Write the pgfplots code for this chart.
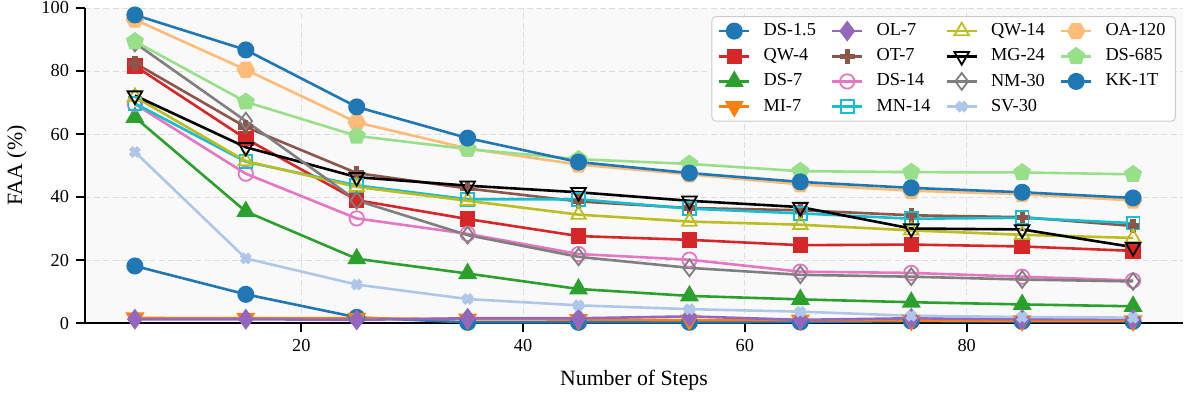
\documentclass[border=0pt]{standalone}
\usepackage{fontspec}
\setmainfont{Liberation Serif}
\usepackage{pgfplots}
\pgfplotsset{compat=1.18}
\usetikzlibrary{plotmarks}

% tab10 / tab20 palette
\definecolor{tabblue}{HTML}{1F77B4}
\definecolor{taborange}{HTML}{FF7F0E}
\definecolor{tabgreen}{HTML}{2CA02C}
\definecolor{tabred}{HTML}{D62728}
\definecolor{tabpurple}{HTML}{9467BD}
\definecolor{tabbrown}{HTML}{8C564B}
\definecolor{tabpink}{HTML}{E377C2}
\definecolor{tabgray}{HTML}{7F7F7F}
\definecolor{tabolive}{HTML}{BCBD22}
\definecolor{tabcyan}{HTML}{17BECF}
\definecolor{lightblue}{HTML}{AEC7E8}
\definecolor{lightorange}{HTML}{FFBB78}
\definecolor{lightgreen}{HTML}{98DF8A}
\definecolor{panelbg}{HTML}{F9F9F9}

% filled hexagon with points on the left and right
\pgfdeclareplotmark{hexagon*}{%
  \pgfpathmoveto{\pgfpointpolar{0}{\pgfplotmarksize}}%
  \pgfpathlineto{\pgfpointpolar{60}{\pgfplotmarksize}}%
  \pgfpathlineto{\pgfpointpolar{120}{\pgfplotmarksize}}%
  \pgfpathlineto{\pgfpointpolar{180}{\pgfplotmarksize}}%
  \pgfpathlineto{\pgfpointpolar{240}{\pgfplotmarksize}}%
  \pgfpathlineto{\pgfpointpolar{300}{\pgfplotmarksize}}%
  \pgfpathclose
  \pgfusepathqfillstroke}

\pgfplotsset{
  sDSa/.style={color=tabblue, mark=*, mark size=3.6pt},
  sQWa/.style={color=tabred, mark=square*, mark size=3.2pt},
  sDSb/.style={color=tabgreen, mark=triangle*, mark size=4.2pt},
  sMI/.style={color=taborange, mark=triangle*, mark size=4.2pt, mark options={rotate=180}},
  sOL/.style={color=tabpurple, mark=diamond*, mark size=4.2pt},
  sOT/.style={color=tabbrown, mark=+, mark size=3.7pt, mark options={line width=2.6pt}},
  sDSc/.style={color=tabpink, mark=o, mark size=3.6pt, mark options={line width=0.9pt}},
  sMN/.style={color=tabcyan, mark=square, mark size=3.2pt, mark options={line width=0.9pt}},
  sQWb/.style={color=tabolive, mark=triangle, mark size=4.2pt, mark options={line width=0.9pt}},
  sMG/.style={color=black, mark=triangle, mark size=4.2pt, mark options={rotate=180, line width=0.9pt}},
  sNM/.style={color=tabgray, mark=diamond, mark size=4.2pt, mark options={line width=0.9pt}},
  sSV/.style={color=lightblue, mark=x, mark size=2.9pt, mark options={line width=2.6pt}},
  sOA/.style={color=lightorange, mark=hexagon*, mark size=3.9pt},
  sDSd/.style={color=lightgreen, mark=pentagon*, mark size=3.9pt},
  sKK/.style={color=tabblue, mark=*, mark size=3.6pt},
}

\begin{document}
\begin{tikzpicture}
\path[use as bounding box] (-42.5pt,-37.5pt) rectangle (552.5pt,161.5pt);
\begin{axis}[
  at={(0,0)}, anchor=south west,
  scale only axis, width=549pt, height=157.5pt,
  xmin=0.5, xmax=99.5, ymin=0, ymax=100,
  xtick={20,40,60,80}, ytick={0,20,40,60,80,100},
  axis x line*=bottom, axis y line*=left,
  axis line style={line width=0.8pt, -},
  tick align=outside, major tick length=4.5pt,
  tick style={line width=0.8pt, black},
  grid=major,
  grid style={line width=0.4pt, color=black!13, dash pattern=on 3pt off 1.6pt},
  axis background/.style={fill=panelbg},
  /pgf/number format/assume math mode=true,
  tick label style={font=\fontsize{9.15}{10}\selectfont},
  label style={font=\fontsize{10.9}{12}\selectfont},
  xlabel={Number of Steps},
  ylabel={FAA (\%)},
  xlabel style={at={(axis description cs:0.5,0)}, anchor=center, yshift=-28.5pt},
  ylabel style={at={(axis description cs:-0.062,0.5)}, anchor=center},
  every axis plot/.append style={line width=1.3pt},
  legend columns=4,
  legend cell align=left,
  legend image code/.code={%
    \draw[mark repeat=2, mark phase=2] plot coordinates {(0pt,0pt) (7.5pt,0pt) (15pt,0pt)};},
  legend style={
    at={(axis description cs:1,1)}, anchor=north east, xshift=-3.5pt, yshift=-4pt,
    draw=black!20, line width=0.5pt, rounded corners=2pt,
    fill=white,
    font=\fontsize{9.15}{10}\selectfont,
    inner xsep=3pt, inner ysep=1.5pt, row sep=1pt,
    /tikz/every odd column/.append style={column sep=4.5pt},
    /tikz/every even column/.append style={column sep=5.5pt},
  },
]

\addplot[sDSa, forget plot] coordinates {(5,18.1) (15,9.1) (25,1.8) (35,0.2) (45,0.2) (55,0.2) (65,0.3) (75,0.6) (85,0.5) (95,0.5)};
\addplot[sQWa, forget plot] coordinates {(5,81.6) (15,58.5) (25,39.0) (35,33.0) (45,27.6) (55,26.4) (65,24.7) (75,24.9) (85,24.3) (95,22.9)};
\addplot[sDSb, forget plot] coordinates {(5,65.3) (15,35.4) (25,20.4) (35,15.7) (45,10.8) (55,8.6) (65,7.5) (75,6.6) (85,5.9) (95,5.3)};
\addplot[sMI, forget plot] coordinates {(5,1.6) (15,1.5) (25,1.5) (35,1.2) (45,1.1) (55,0.9) (65,0.9) (75,0.8) (85,0.7) (95,0.7)};
\addplot[sOL, forget plot] coordinates {(5,1.2) (15,1.2) (25,1.0) (35,1.5) (45,1.5) (55,2.1) (65,1.0) (75,1.5) (85,1.2) (95,1.3)};
\addplot[sOT, forget plot] coordinates {(5,82.5) (15,62.2) (25,47.6) (35,42.7) (45,38.6) (55,36.5) (65,35.8) (75,34.2) (85,33.6) (95,30.8)};
\addplot[sDSc, forget plot] coordinates {(5,69.5) (15,47.4) (25,33.2) (35,28.3) (45,21.9) (55,20.1) (65,16.3) (75,15.9) (85,14.7) (95,13.5)};
\addplot[sMN, forget plot] coordinates {(5,69.7) (15,51.2) (25,43.7) (35,39.3) (45,39.3) (55,36.3) (65,34.8) (75,33.1) (85,33.4) (95,31.7)};
\addplot[sQWb, forget plot] coordinates {(5,71.8) (15,51.4) (25,43.2) (35,38.8) (45,34.4) (55,32.2) (65,31.2) (75,29.4) (85,28.0) (95,27.0)};
\addplot[sMG, forget plot] coordinates {(5,72.2) (15,55.8) (25,46.3) (35,43.6) (45,41.5) (55,38.8) (65,36.8) (75,30.0) (85,29.7) (95,24.1)};
\addplot[sNM, forget plot] coordinates {(5,88.9) (15,64.1) (25,38.9) (35,27.9) (45,21.0) (55,17.5) (65,15.3) (75,14.7) (85,13.8) (95,13.2)};
\addplot[sSV, forget plot] coordinates {(5,54.3) (15,20.5) (25,12.2) (35,7.6) (45,5.6) (55,4.4) (65,3.6) (75,2.3) (85,1.9) (95,1.7)};
\addplot[sOA, forget plot] coordinates {(5,96.3) (15,80.4) (25,63.7) (35,55.4) (45,50.3) (55,47.2) (65,44.0) (75,42.0) (85,40.9) (95,38.9)};
\addplot[sDSd, forget plot] coordinates {(5,89.4) (15,70.2) (25,59.4) (35,55.2) (45,52.0) (55,50.5) (65,48.2) (75,47.9) (85,47.8) (95,47.2)};
\addplot[sKK, forget plot] coordinates {(5,97.8) (15,86.7) (25,68.6) (35,58.7) (45,51.1) (55,47.6) (65,44.8) (75,42.9) (85,41.5) (95,39.7)};

% legend, filled row by row so that its columns read top to bottom
\addlegendimage{sDSa}\addlegendentry{DS-1.5}
\addlegendimage{sOL}\addlegendentry{OL-7}
\addlegendimage{sQWb}\addlegendentry{QW-14}
\addlegendimage{sOA}\addlegendentry{OA-120}
\addlegendimage{sQWa}\addlegendentry{QW-4}
\addlegendimage{sOT}\addlegendentry{OT-7}
\addlegendimage{sMG}\addlegendentry{MG-24}
\addlegendimage{sDSd}\addlegendentry{DS-685}
\addlegendimage{sDSb}\addlegendentry{DS-7}
\addlegendimage{sDSc}\addlegendentry{DS-14}
\addlegendimage{sNM}\addlegendentry{NM-30}
\addlegendimage{sKK}\addlegendentry{KK-1T}
\addlegendimage{sMI}\addlegendentry{MI-7}
\addlegendimage{sMN}\addlegendentry{MN-14}
\addlegendimage{sSV}\addlegendentry{SV-30}
\end{axis}
\end{tikzpicture}
\end{document}
